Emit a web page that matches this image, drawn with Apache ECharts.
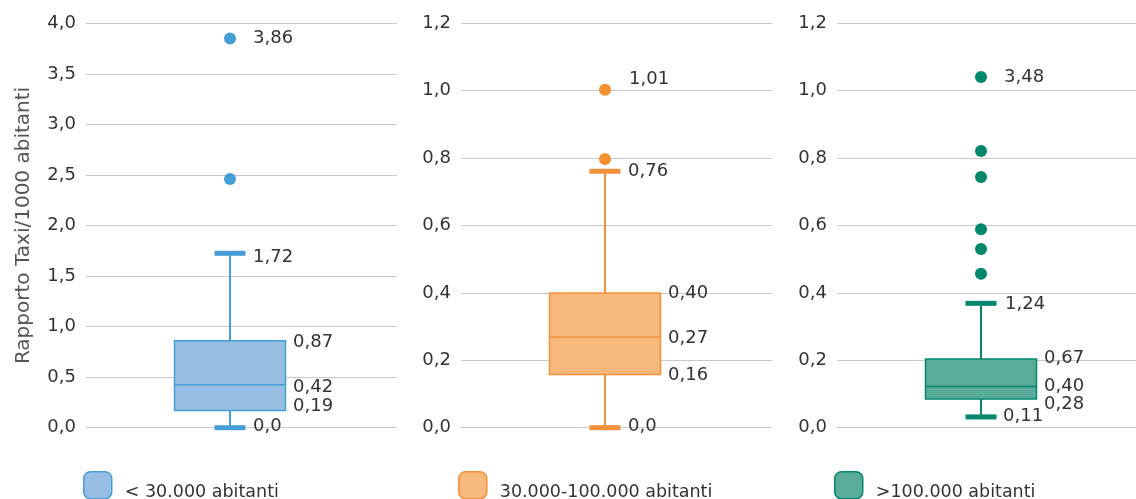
<!DOCTYPE html>
<html><head><meta charset="utf-8">
<script src="https://cdn.jsdelivr.net/npm/echarts@6/dist/echarts.min.js"></script>
<style>html,body{margin:0;padding:0;background:#fff}#c{width:1136px;height:499px}</style>
</head><body><div id="c"></div>
<script>
// ---------- DATA ----------
const groups = ['< 30.000 abitanti', '30.000-100.000 abitanti', '>100.000 abitanti'];
// [min, q1, median, q3, max]
const boxSmall  = [0, 0.17, 0.425, 0.86, 1.725];
const boxMedium = [0, 0.158, 0.269, 0.40, 0.761];
const boxLarge  = [0.032, 0.085, 0.122, 0.204, 0.369];
const outSmall  = [2.46, 3.85];
const outMedium = [0.797, 1.003];
const outLarge  = [0.457, 0.53, 0.589, 0.744, 0.821, 1.041];
const yMaxs  = [4.0, 1.2, 1.2];
const ySteps = [0.5, 0.2, 0.2];
// value labels: [top outlier, upper whisker, q3, median, q1, lower whisker]
const labelsSmall  = ['3,86', '1,72', '0,87', '0,42', '0,19', '0,0'];
const labelsMedium = ['1,01', '0,76', '0,40', '0,27', '0,16', '0,0'];
const labelsLarge  = ['3,48', '1,24', '0,67', '0,40', '0,28', '0,11'];
const yTitle = 'Rapporto Taxi/1000 abitanti';

// ---------- STYLE ----------
const strokes = ['#459fd6', '#f3913a', '#00876c'];
const fills   = ['#97bde2', '#f7b97b', '#5aac9a'];
const dots    = ['#449dd4', '#f39130', '#00876c'];
const lefts   = [86, 461, 837];
const TOP = 23.3, HEIGHT = 404.4;
// label offsets [dx, dy] per label slot, per panel
const labelOffsets = [
  [[23,0],[23,4],[63,2],[63,3],[63,-4],[23,-1]],
  [[24,-10],[23,0],[63,0],[63,1],[63,1],[23,-1]],
  [[23,0],[24,1],[63,-1],[63,0],[63,5],[22,-1]]
];
const textColor = '#333333';
const FONT = 'DejaVu Sans';

const boxes = [boxSmall, boxMedium, boxLarge];
const outs = [outSmall, outMedium, outLarge];
const labs = [labelsSmall, labelsMedium, labelsLarge];

function renderBox(color, fill) {
  return function (params, api) {
    const c = api.value(0);
    const pMin = api.coord([c, api.value(1)]);
    const x = pMin[0], ymin = pMin[1];
    const yq1 = api.coord([c, api.value(2)])[1];
    const ymed = api.coord([c, api.value(3)])[1];
    const yq3 = api.coord([c, api.value(4)])[1];
    const ymax = api.coord([c, api.value(5)])[1];
    const hw = 55.5, cw = 15.5;
    return { type: 'group', children: [
      { type: 'line', shape: { x1: x, y1: yq3, x2: x, y2: ymax }, style: { stroke: color, lineWidth: 2 } },
      { type: 'line', shape: { x1: x, y1: ymin, x2: x, y2: yq1 }, style: { stroke: color, lineWidth: 2 } },
      { type: 'rect', shape: { x: x - cw, y: ymax - 2.5, width: 2 * cw, height: 5 }, style: { fill: color } },
      { type: 'rect', shape: { x: x - cw, y: ymin - 2.5, width: 2 * cw, height: 5 }, style: { fill: color } },
      { type: 'rect', shape: { x: x - hw, y: yq3, width: 2 * hw, height: yq1 - yq3 }, style: { fill: fill, stroke: color, lineWidth: 1.5 } },
      { type: 'line', shape: { x1: x - hw, y1: ymed, x2: x + hw, y2: ymed }, style: { stroke: color, lineWidth: 1.5 } }
    ]};
  };
}

const grid = [], xAxis = [], yAxis = [], series = [], legend = [];
for (let i = 0; i < 3; i++) {
  // background grid (gridlines + tick labels)
  grid.push({ left: lefts[i], top: TOP, width: 311, height: HEIGHT });
  // plot grid
  grid.push({ left: lefts[i], top: TOP, width: 288, height: HEIGHT });
  xAxis.push({ gridIndex: 2 * i, type: 'category', data: [''], show: false });
  xAxis.push({ gridIndex: 2 * i + 1, type: 'category', data: [groups[i]], show: false });
  const yb = {
    gridIndex: 2 * i, type: 'value', min: 0, max: yMaxs[i], interval: ySteps[i],
    axisLine: { show: false }, axisTick: { show: false },
    splitLine: { lineStyle: { color: '#c8c8c8', width: 1 } },
    axisLabel: { fontFamily: FONT, fontSize: 18, color: textColor, margin: 10,
      formatter: v => v.toFixed(1).replace('.', ',') }
  };
  if (i === 0) {
    yb.name = yTitle; yb.nameLocation = 'middle'; yb.nameGap = 52;
    yb.nameTextStyle = { fontFamily: FONT, fontSize: 20, color: '#555' };
  }
  yAxis.push(yb);
  yAxis.push({ gridIndex: 2 * i + 1, type: 'value', min: 0, max: yMaxs[i], interval: ySteps[i], show: false, splitLine: { show: false } });

  const b = boxes[i];
  series.push({
    name: groups[i], type: 'custom', xAxisIndex: 2 * i + 1, yAxisIndex: 2 * i + 1,
    renderItem: renderBox(strokes[i], fills[i]), silent: true,
    data: [[0, b[0], b[1], b[2], b[3], b[4]]], z: 3
  });
  series.push({
    type: 'scatter', xAxisIndex: 2 * i + 1, yAxisIndex: 2 * i + 1, silent: true,
    symbolSize: 12, itemStyle: { color: dots[i], opacity: 1 },
    data: outs[i].map(v => [0, v]), z: 4
  });
  const anchors = [Math.max(...outs[i]), b[4], b[3], b[2], b[1], b[0]];
  series.push({
    type: 'scatter', xAxisIndex: 2 * i + 1, yAxisIndex: 2 * i + 1, silent: true,
    symbol: 'circle', symbolSize: 0, z: 5, itemStyle: { opacity: 1, color: 'transparent' },
    data: anchors.map((v, k) => ({
      value: [0, v],
      label: { show: true, position: 'right', distance: labelOffsets[i][k][0], offset: [0, labelOffsets[i][k][1]],
        formatter: labs[i][k], fontFamily: FONT, fontSize: 18, color: textColor }
    }))
  });
  legend.push({
    left: lefts[i] - 3 - 5, top: 466, itemWidth: 28, itemHeight: 27, selectedMode: false,
    data: [{ name: groups[i], icon: 'roundRect', itemStyle: { color: fills[i], borderColor: strokes[i], borderWidth: 1.5 } }],
    formatter: '{t|{name}}',
    textStyle: { fontFamily: FONT, fontSize: 17.5, color: textColor,
      rich: { t: { fontFamily: FONT, fontSize: 17.5, color: textColor, padding: [14, 0, 0, 8] } } }
  });
}

const chart = echarts.init(document.getElementById('c'), null, { renderer: 'canvas' });
chart.setOption({ animation: false, grid, xAxis, yAxis, series, legend });
</script></body></html>
